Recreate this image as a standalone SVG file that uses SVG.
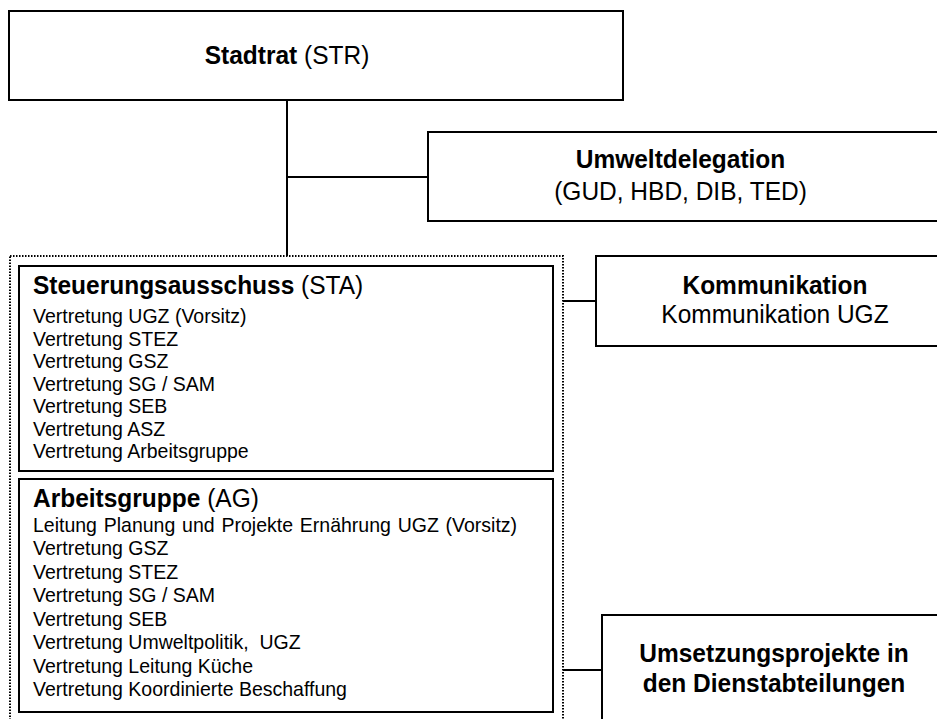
<svg xmlns="http://www.w3.org/2000/svg" width="937" height="719" viewBox="0 0 937 719">
<style>
.box{fill:#fff;stroke:#000;stroke-width:2}
.dot{fill:none;stroke:#000;stroke-width:2;stroke-dasharray:1.5 1.5}
.ln{stroke:#000;stroke-width:2;fill:none}
text{font-family:"Liberation Sans",Arial,sans-serif;fill:#000}
.t{font-size:24.5px}
.b{font-weight:bold}
.i{font-size:19.5px}
.m{text-anchor:middle}
</style>
<rect width="937" height="719" fill="#fff"/>
<g id="connectors">
<line class="ln" x1="287" y1="100" x2="287" y2="256"/>
<line class="ln" x1="287" y1="177" x2="428" y2="177"/>
<line class="ln" x1="563" y1="301" x2="596" y2="301"/>
<line class="ln" x1="563" y1="670" x2="602" y2="670"/>
</g>
<g id="stadtrat">
<rect class="box" x="9" y="11" width="614" height="89"/>
<text class="t m" x="287" y="64" transform="matrix(1 0 0 1.07 0 -4.48)"><tspan class="b">Stadtrat</tspan> (STR)</text>
</g>
<g id="umweltdelegation">
<rect class="box" x="428" y="132" width="540" height="89"/>
<text class="t m b" x="680.5" y="168" transform="matrix(1 0 0 1.07 0 -11.76)">Umweltdelegation</text>
<text class="t m" x="680.5" y="200" transform="matrix(1 0 0 1.07 0 -14)">(GUD, HBD, DIB, TED)</text>
</g>
<g id="gremien">
<rect class="dot" x="10" y="256" width="553" height="480"/>
</g>
<g id="steuerungsausschuss">
<rect class="box" x="19" y="266" width="534" height="205"/>
<text class="t" x="33" y="294" transform="matrix(1 0 0 1.07 0 -20.58)"><tspan class="b">Steuerungsausschuss</tspan> (STA)</text>
<text class="i" x="33" y="323.5" transform="matrix(1 0 0 1.07 0 -22.645)">Vertretung UGZ (Vorsitz)</text>
<text class="i" x="33" y="346" transform="matrix(1 0 0 1.07 0 -24.22)">Vertretung STEZ</text>
<text class="i" x="33" y="368.5" transform="matrix(1 0 0 1.07 0 -25.795)">Vertretung GSZ</text>
<text class="i" x="33" y="391" transform="matrix(1 0 0 1.07 0 -27.37)">Vertretung SG / SAM</text>
<text class="i" x="33" y="413.5" transform="matrix(1 0 0 1.07 0 -28.945)">Vertretung SEB</text>
<text class="i" x="33" y="436" transform="matrix(1 0 0 1.07 0 -30.52)">Vertretung ASZ</text>
<text class="i" x="33" y="458.5" transform="matrix(1 0 0 1.07 0 -32.095)">Vertretung Arbeitsgruppe</text>
</g>
<g id="arbeitsgruppe">
<rect class="box" x="19" y="479" width="534" height="233"/>
<text class="t" x="33" y="507" transform="matrix(1 0 0 1.07 0 -35.49)"><tspan class="b">Arbeitsgruppe</tspan> (AG)</text>
<text class="i" x="33" y="532" word-spacing="1.4" transform="matrix(1 0 0 1.07 0 -37.24)">Leitung Planung und Projekte Ernährung UGZ (Vorsitz)</text>
<text class="i" x="33" y="555.5" transform="matrix(1 0 0 1.07 0 -38.885)">Vertretung GSZ</text>
<text class="i" x="33" y="579" transform="matrix(1 0 0 1.07 0 -40.53)">Vertretung STEZ</text>
<text class="i" x="33" y="602.5" transform="matrix(1 0 0 1.07 0 -42.175)">Vertretung SG / SAM</text>
<text class="i" x="33" y="626" transform="matrix(1 0 0 1.07 0 -43.82)">Vertretung SEB</text>
<text class="i" x="33" y="649.5" transform="matrix(1 0 0 1.07 0 -45.465)">Vertretung Umweltpolitik,&#160; UGZ</text>
<text class="i" x="33" y="673" transform="matrix(1 0 0 1.07 0 -47.11)">Vertretung Leitung Küche</text>
<text class="i" x="33" y="696.5" transform="matrix(1 0 0 1.07 0 -48.755)">Vertretung Koordinierte Beschaffung</text>
</g>
<g id="kommunikation">
<rect class="box" x="596" y="256" width="370" height="90"/>
<text class="t m b" x="775" y="294" transform="matrix(1 0 0 1.07 0 -20.58)">Kommunikation</text>
<text class="t m" x="775" y="323" transform="matrix(1 0 0 1.07 0 -22.61)">Kommunikation UGZ</text>
</g>
<g id="umsetzungsprojekte">
<rect class="box" x="602" y="615" width="370" height="130"/>
<text class="t m b" x="774" y="662" transform="matrix(1 0 0 1.07 0 -46.34)">Umsetzungsprojekte in</text>
<text class="t m b" x="774" y="692" transform="matrix(1 0 0 1.07 0 -48.44)">den Dienstabteilungen</text>
</g>
</svg>
